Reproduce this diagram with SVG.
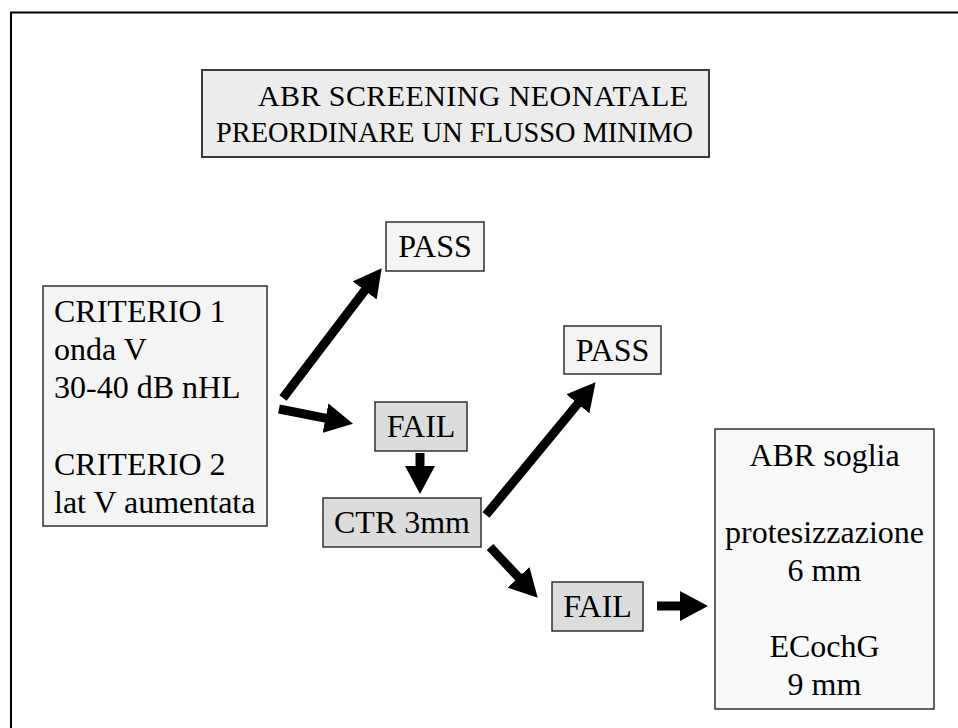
<svg xmlns="http://www.w3.org/2000/svg" width="958" height="728" viewBox="0 0 958 728" font-family="'Liberation Serif', 'Times New Roman', 'DejaVu Serif', serif">
<defs>
<style>
text{font-family:'Liberation Serif','Times New Roman','DejaVu Serif',serif;fill:#000;}
.t{font-size:32px;}
.c{text-anchor:middle;}
.title{font-size:30px;}
.box{stroke:#222;stroke-width:1.4;}
.light{fill:#f4f4f4;}
.dark{fill:#dcdcdc;}
.pale{fill:#f9f9f9;}
.conn line{stroke:#000;stroke-width:9;marker-end:url(#ah);}
</style>
<marker id="ah" markerUnits="userSpaceOnUse" markerWidth="28" markerHeight="30" refX="1" refY="15" orient="auto" viewBox="0 0 28 30">
<path d="M0,0 L28,15 L0,30 z" fill="#000"/>
</marker>
</defs>
<rect width="958" height="728" fill="#fff"/>
<path d="M11,730 V12.5 H960" fill="none" stroke="#000" stroke-width="2"/>

<g id="title">
<rect x="202" y="70" width="507" height="87" fill="#ececec" stroke="#3a3a3a" stroke-width="2"/>
<text class="title" x="258" y="106" textLength="430" lengthAdjust="spacing">ABR SCREENING NEONATALE</text>
<text class="title" x="216" y="142" textLength="477" lengthAdjust="spacingAndGlyphs">PREORDINARE UN FLUSSO MINIMO</text>
</g>

<g id="criteri">
<rect class="box light" x="43" y="286" width="224" height="240"/>
<text class="t" x="54" y="322">CRITERIO 1</text>
<text class="t" x="54" y="360">onda V</text>
<text class="t" x="54" y="398">30-40 dB nHL</text>
<text class="t" x="54" y="475">CRITERIO 2</text>
<text class="t" x="54" y="513">lat V aumentata</text>
</g>

<g id="pass1">
<rect class="box light" x="386" y="222" width="98" height="49"/>
<text class="t c" x="435" y="257">PASS</text>
</g>

<g id="fail1">
<rect class="box dark" x="375" y="402" width="92" height="49"/>
<text class="t c" x="421" y="437">FAIL</text>
</g>

<g id="ctr">
<rect class="box dark" x="323" y="498" width="158" height="49"/>
<text class="t c" x="402" y="533">CTR 3mm</text>
</g>

<g id="pass2">
<rect class="box light" x="564" y="326" width="97" height="48"/>
<text class="t c" x="612.5" y="361">PASS</text>
</g>

<g id="fail2">
<rect class="box dark" x="552" y="582" width="91" height="49"/>
<text class="t c" x="597.5" y="617">FAIL</text>
</g>

<g id="abr">
<rect class="box pale" x="715" y="429" width="219" height="280"/>
<text class="t c" x="824.5" y="466">ABR soglia</text>
<text class="t c" x="824.5" y="543">protesizzazione</text>
<text class="t c" x="824.5" y="581">6 mm</text>
<text class="t c" x="824.5" y="657">ECochG</text>
<text class="t c" x="824.5" y="695">9 mm</text>
</g>

<g id="connectors" class="conn">
<line x1="283" y1="398" x2="365.3" y2="289.7"/>
<line x1="279" y1="409" x2="326.5" y2="418.4"/>
<line x1="420" y1="453" x2="420" y2="467"/>
<line x1="486" y1="515" x2="578.4" y2="403"/>
<line x1="490" y1="547" x2="519.2" y2="578"/>
<line x1="657" y1="606" x2="681" y2="606"/>
</g>
</svg>
